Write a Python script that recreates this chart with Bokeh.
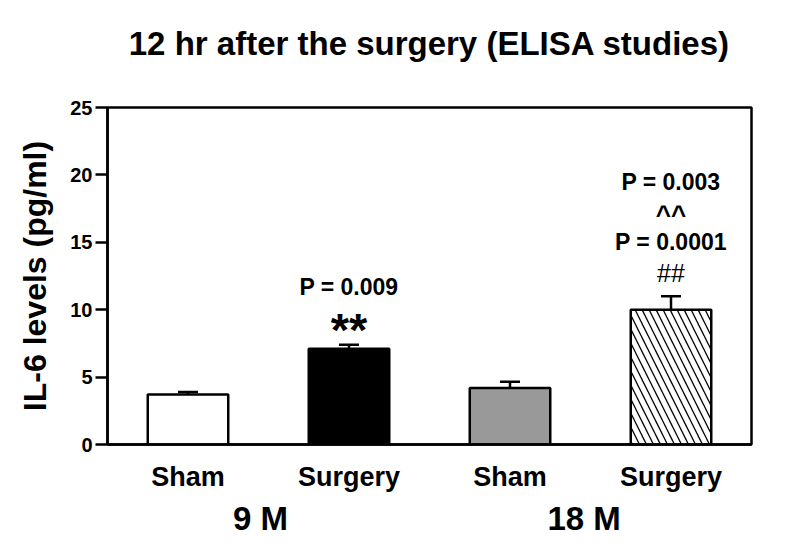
from bokeh.plotting import figure
from bokeh.models import Range1d, FixedTicker, LinearAxis, ColumnDataSource, Whisker, Title
from bokeh.core.properties import value
from bokeh.embed import file_html
from bokeh.resources import INLINE

# ---- data ----
title_text = "12 hr after the surgery (ELISA studies)"
conditions = ["Sham", "Surgery", "Sham", "Surgery"]
groups = ["9 M", "18 M"]
il6_mean = [3.7, 7.1, 4.2, 10.0]
il6_sem = [0.2, 0.3, 0.45, 1.0]
fill_colors = ["white", "black", "#999999", "white"]
hatches = [" ", " ", " ", "\\"]
y_ticks = [0, 5, 10, 15, 20, 25]

FONT = "Liberation Sans"

xs = [i + 0.5 for i in range(len(conditions))]
tops = [m + e for m, e in zip(il6_mean, il6_sem)]

p = figure(width=774, height=539, output_backend="svg", toolbar_location=None, title=None,
           x_range=Range1d(0, 4), y_range=Range1d(0, 25),
           min_border_left=107, min_border_right=23, min_border_top=107, min_border_bottom=94)

# spacer panel between frame and title, then the title itself
p.add_layout(Title(text=" ", text_font_size="10px", standoff=28), "above")
p.add_layout(Title(text=title_text, align="center", text_font=FONT, text_font_size="33px",
                   text_font_style="bold", text_color="black", standoff=10), "above")

src = ColumnDataSource(dict(x=xs, top=il6_mean, fill=fill_colors, hatch=hatches,
                            upper=tops, lower=il6_mean))
p.vbar(x="x", top="top", bottom=0, width=0.5, source=src, fill_color="fill",
       line_color="black", line_width=2.5, hatch_pattern="hatch", hatch_color="black",
       hatch_scale=14, hatch_weight=1.3)

w = Whisker(base="x", upper="upper", lower="lower", source=src, line_width=2.5,
            line_color="black", level="underlay")
w.upper_head.size = 20
w.upper_head.line_width = 2.5
w.lower_head = None
p.add_layout(w)

# annotations
p.text(x=[xs[1]], y=[tops[1] + 4.3], text=["P = 0.009"], text_font=value(FONT),
       text_font_size="23px", text_font_style="bold", text_align="center",
       text_baseline="middle", text_color="black")
p.text(x=[xs[1]], y=[tops[1] + 1.1], text=["**"], text_font=value(FONT),
       text_font_size="47px", text_font_style="bold", text_align="center",
       text_baseline="middle", text_color="black")
p.text(x=[xs[3], xs[3]], y=[tops[3] + 8.45, tops[3] + 4.0], text=["P = 0.003", "P = 0.0001"],
       text_font=value(FONT), text_font_size="23px", text_font_style="bold",
       text_align="center", text_baseline="middle", text_color="black")
p.text(x=[xs[3]], y=[tops[3] + 6.0], text=["^^"], text_font=value(FONT),
       text_font_size="26px", text_font_style="bold", text_align="center",
       text_baseline="middle", text_color="black")
p.text(x=[xs[3]], y=[tops[3] + 1.7], text=["##"], text_font=value(FONT),
       text_font_size="25px", text_align="center",
       text_baseline="middle", text_color="black")

# axes styling
p.xgrid.visible = False
p.ygrid.visible = False
p.outline_line_color = "black"
p.outline_line_width = 2.5
p.outline_line_alpha = 1

ya = p.yaxis[0]
ya.ticker = FixedTicker(ticks=y_ticks)
ya.axis_label = "IL-6 levels (pg/ml)"
ya.axis_label_text_font = FONT
ya.axis_label_text_font_size = "32px"
ya.axis_label_text_font_style = "bold"
ya.axis_label_text_color = "black"
ya.axis_label_standoff = 14
ya.major_label_text_font = FONT
ya.major_label_text_font_size = "20px"
ya.major_label_text_font_style = "bold"
ya.major_label_text_color = "black"
ya.major_label_standoff = 3
ya.major_tick_out = 12
ya.major_tick_in = 0
ya.minor_tick_line_color = None
ya.axis_line_width = 2.5
ya.major_tick_line_width = 2.5

xa = p.xaxis[0]
xa.ticker = FixedTicker(ticks=xs)
xa.major_label_overrides = {x: c for x, c in zip(xs, conditions)}
xa.major_label_text_font = FONT
xa.major_label_text_font_size = "27px"
xa.major_label_text_font_style = "bold"
xa.major_label_text_color = "black"
xa.major_label_standoff = 17
xa.major_tick_out = 0
xa.major_tick_in = 0
xa.major_tick_line_color = None
xa.minor_tick_line_color = None
xa.axis_line_width = 2.5

group_pos = [0.95, 2.96]
ga = LinearAxis(ticker=FixedTicker(ticks=group_pos),
                major_label_overrides={x: g for x, g in zip(group_pos, groups)},
                axis_line_color=None, major_tick_line_color=None, minor_tick_line_color=None,
                major_tick_out=0, major_tick_in=0,
                major_label_text_font=FONT, major_label_text_font_size="33px",
                major_label_text_font_style="bold", major_label_text_color="black",
                major_label_standoff=5)
p.add_layout(ga, "below")

open("out.html", "w").write(file_html(p, INLINE))
